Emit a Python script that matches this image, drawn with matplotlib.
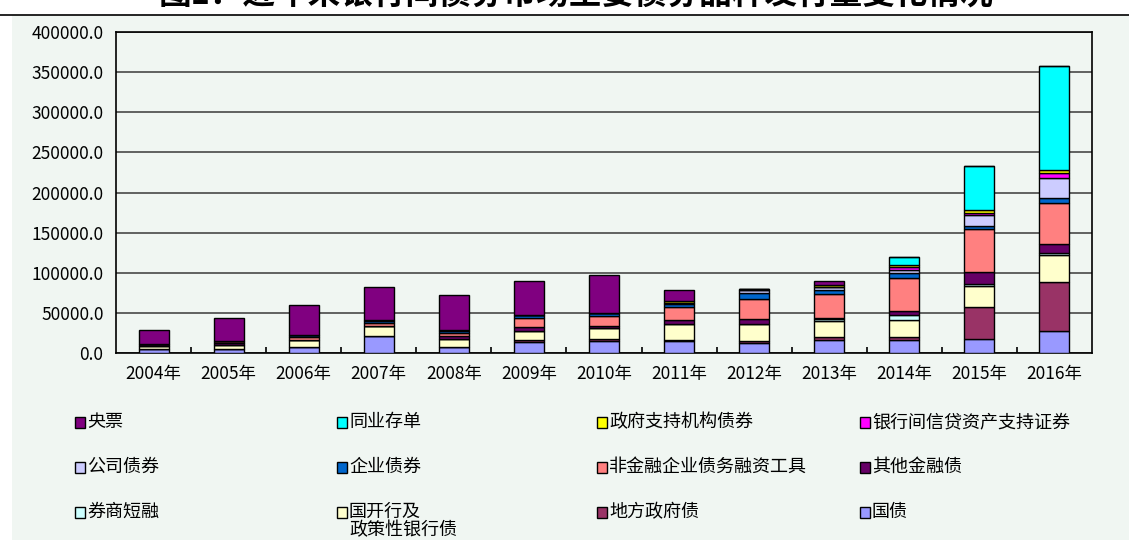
import numpy as np
import matplotlib.pyplot as plt
from matplotlib.patches import Rectangle
from matplotlib.lines import Line2D

plt.rcParams['font.family'] = ['Noto Sans CJK SC', 'DejaVu Sans']

# issuance by year (亿元)
years = ['2004年', '2005年', '2006年', '2007年', '2008年', '2009年', '2010年',
         '2011年', '2012年', '2013年', '2014年', '2015年', '2016年']

guozhai    = [5000, 5000, 7500, 21600, 7100, 13700, 15400, 14500, 12500, 15800, 15800, 17900, 27900]
difang     = [0, 0, 0, 0, 0, 2500, 2500, 2100, 2100, 3700, 4200, 39500, 60300]
guokai     = [3300, 5000, 8300, 11600, 10800, 11600, 13300, 20000, 22000, 20000, 21600, 25800, 34500]
quanshang  = [0, 0, 0, 0, 0, 0, 0, 0, 0, 3000, 5400, 3300, 1500]
qita       = [3300, 2600, 1000, 800, 2900, 4200, 2100, 4200, 5800, 1200, 5000, 14500, 11600]
feijinrong = [0, 2000, 3700, 3400, 4200, 11600, 12500, 16600, 25400, 30000, 42000, 53200, 51500]
qiye       = [0, 0, 2500, 2500, 2600, 4200, 4200, 3700, 6700, 5400, 6200, 4200, 5400]
gongsi     = [0, 0, 0, 800, 1600, 0, 0, 1500, 3700, 2900, 3300, 13300, 25800]
abs_       = [0, 0, 0, 0, 0, 0, 0, 0, 0, 800, 3300, 3300, 5400]
zhengfu    = [0, 0, 0, 0, 0, 0, 0, 2700, 2100, 1500, 2500, 3300, 4200]
tongye     = [0, 0, 0, 0, 0, 0, 0, 0, 0, 0, 10000, 55000, 130100]
yangpiao   = [17500, 29100, 36200, 41600, 42800, 41600, 47800, 13700, 0, 5400, 0, 0, 0]

# stacking order, bottom to top
series = [
    ('国债', guozhai, '#9999FF'),
    ('地方政府债', difang, '#993366'),
    ('国开行及\n政策性银行债', guokai, '#FFFFCC'),
    ('券商短融', quanshang, '#CCFFFF'),
    ('其他金融债', qita, '#660066'),
    ('非金融企业债务融资工具', feijinrong, '#FF8080'),
    ('企业债券', qiye, '#0066CC'),
    ('公司债券', gongsi, '#CCCCFF'),
    ('银行间信贷资产支持证券', abs_, '#FF00FF'),
    ('政府支持机构债券', zhengfu, '#FFFF00'),
    ('同业存单', tongye, '#00FFFF'),
    ('央票', yangpiao, '#800080'),
]

W, H = 1129, 544
bg = '#F0F6F2'
fig = plt.figure(figsize=(W / 100, H / 100), dpi=100)

# panel background and rule under the (clipped) title
fig.patches.append(Rectangle((12 / W, 4 / H), (W - 12) / W, (H - 19) / H,
                             transform=fig.transFigure, facecolor=bg, edgecolor='none', zorder=-10))
fig.add_artist(Line2D([0, 1], [1 - 14.5 / H, 1 - 14.5 / H], color='black', lw=1.2))
fig.text(0.51, 1 + 6 / H, '图1：近年来银行间债券市场主要债券品种发行量变化情况',
         ha='center', va='center', fontsize=23.5, fontweight='bold')

ax = fig.add_axes([116 / W, 1 - 353 / H, 976 / W, 321 / H])
ax.set_zorder(1)
ax.set_facecolor(bg)

x = np.arange(len(years))
bottom = np.zeros(len(years))
for name, vals, col in series:
    vals = np.array(vals, dtype=float)
    ax.bar(x, vals, width=0.4, bottom=bottom, color=col, edgecolor='black',
           linewidth=1.0, zorder=3)
    bottom += vals

ax.set_xlim(-0.5, len(years) - 0.5)
ax.set_ylim(0, 400000)
ax.set_yticks(np.arange(0, 400001, 50000))
ax.set_yticklabels([f'{v:.1f}' for v in np.arange(0, 400001, 50000)])
ax.yaxis.grid(True, color='#3a3a3a', linewidth=1.1, zorder=1)
ax.set_axisbelow(True)
ax.set_xticks(x)
ax.set_xticklabels(years)
ax.set_xticks(np.arange(0.5, len(years) - 1, 1), minor=True)
ax.tick_params(axis='x', which='major', length=0, pad=9, labelsize=12.5)
ax.tick_params(axis='x', which='minor', direction='in', length=4, width=1.2)
ax.tick_params(axis='y', length=0, pad=9, labelsize=12.5)
for s in ax.spines.values():
    s.set_linewidth(1.2)
    s.set_color('black')

# legend, laid out row by row like the reference
legend_order = ['央票', '同业存单', '政府支持机构债券', '银行间信贷资产支持证券',
                '公司债券', '企业债券', '非金融企业债务融资工具', '其他金融债',
                '券商短融', '国开行及\n政策性银行债', '地方政府债', '国债']
colors = {name: col for name, _, col in series}
col_x = [75, 337, 597, 860]
row_y = [422, 467, 512]
for i, name in enumerate(legend_order):
    cx = col_x[i % 4]
    cy = row_y[i // 4]
    fig.patches.append(Rectangle((cx / W, 1 - (cy + 5.5) / H), 10 / W, 11 / H,
                                 transform=fig.transFigure, facecolor=colors[name],
                                 edgecolor='black', linewidth=1.0, zorder=2))
    fig.text((cx + 12) / W, 1 - (cy - 9) / H, name, ha='left', va='top',
             fontsize=13, linespacing=1.0)

fig.savefig('out.png', dpi=100)
